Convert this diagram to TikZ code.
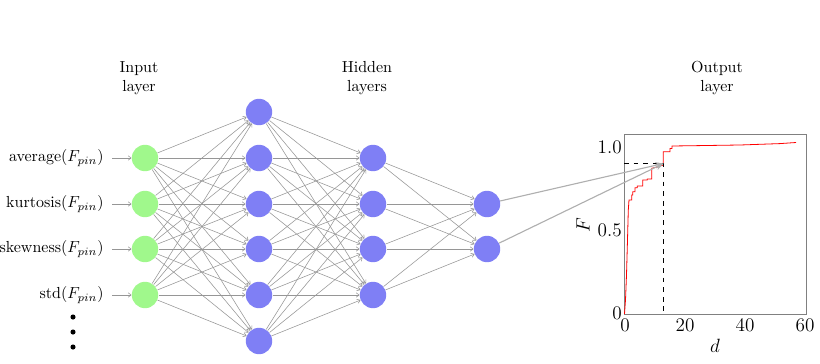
\documentclass[tikz,border=0pt]{standalone}
\usetikzlibrary{arrows.meta}
\definecolor{ingreen}{RGB}{160,248,140}
\definecolor{hidblue}{RGB}{127,127,245}
\definecolor{edgegray}{RGB}{150,150,150}
\definecolor{outgray}{RGB}{175,175,175}
\begin{document}
\begin{tikzpicture}[x=0.625pt,y=-0.625pt,
  neuron/.style={circle,minimum size=16.5pt,inner sep=0pt},
  inneuron/.style={neuron,fill=ingreen},
  hidneuron/.style={neuron,fill=hidblue},
  conn/.style={draw=edgegray,line width=0.35pt,-{To[length=2.2pt,width=3pt]}},
  outconn/.style={draw=outgray,line width=0.7pt,-{Stealth[length=5pt,width=4pt]}},
  lab/.style={align=center,font=\normalsize,inner sep=0pt},
  ticklab/.style={font=\large,inner sep=0pt}]
\useasboundingbox (0,0) rectangle (820,364);

% layer titles
\node[lab] (tin) at (139,78) {Input\\layer};
\node[lab] (thid) at (367,78) {Hidden\\layers};
\node[lab] (tout) at (717,78) {Output\\layer};

% input layer
\foreach \i/\y in {1/158,2/204,3/249,4/295}
  \node[inneuron] (I\i) at (145,\y) {};
\node[anchor=east,inner sep=0pt] (L1) at (104,158) {average($F_{pin}$)};
\node[anchor=east,inner sep=0pt] (L2) at (104,204) {kurtosis($F_{pin}$)};
\node[anchor=east,inner sep=0pt] (L3) at (104,249) {skewness($F_{pin}$)};
\node[anchor=east,inner sep=0pt] (L4) at (104,295) {std($F_{pin}$)};
\foreach \i in {1,...,4}
  \draw[conn] (L\i.east) ++(8,0) coordinate (s\i) -- (I\i.west);

% dots
\foreach \y [count=\k] in {317,332,347}
  \fill (73,\y) circle (1.6pt);

% hidden layer 1
\foreach \i/\y in {1/112,2/158,3/204,4/249,5/295,6/341}
  \node[hidneuron] (H\i) at (259,\y) {};
% hidden layer 2
\foreach \i/\y in {1/158,2/204,3/249,4/295}
  \node[hidneuron] (G\i) at (373,\y) {};
% last hidden layer
\foreach \i/\y in {1/204,2/249}
  \node[hidneuron] (O\i) at (487,\y) {};

% connections
\foreach \a in {1,...,4}
  \foreach \b in {1,...,6}
    \draw[conn] (I\a) -- (H\b);
\foreach \a in {1,...,6}
  \foreach \b in {1,...,4}
    \draw[conn] (H\a) -- (G\b);
\foreach \a in {1,...,4}
  \foreach \b in {1,2}
    \draw[conn] (G\a) -- (O\b);

% plot
\draw[gray,line width=0.6pt] (624,134) rectangle (806,314);
\node[ticklab,anchor=east] (y0) at (622,313) {0};
\node[ticklab,anchor=east] (y05) at (622,230) {0.5};
\node[ticklab,anchor=east] (y1) at (622,147) {1.0};
\node[ticklab] (x0) at (625,325) {0};
\node[ticklab] (x20) at (685,325) {20};
\node[ticklab] (x40) at (745,325) {40};
\node[ticklab] (x60) at (805,325) {60};
\node[ticklab,font=\large\itshape] (dl) at (715,346) {$d$};
\node[ticklab,rotate=90] (Fl) at (583,225) {$F$};

\draw[red,line width=0.5pt] (624.5,314) -- (625.5,300) -- (626.5,275) -- (627.5,240) -- (628.3,210)
  -- (629,200) -- (631.7,200) -- (631.7,195) -- (632.7,195) -- (632.7,191.7) -- (635,191.7)
  -- (635,187.7) -- (637.3,187.7) -- (637.3,186) -- (642.7,186) -- (642.7,180) -- (647.3,180)
  -- (647.3,179) -- (651.7,179) -- (651.7,168.3) -- (657,167) -- (663.3,165) -- (663.3,151.7)
  -- (670,151.7) -- (670,148.5) -- (672,148.5) -- (672,146) -- (700,145.6) -- (740,145)
  -- (760,144.3) -- (780,143.6) -- (796,142.5);

\coordinate (P) at (663.5,163.5);
\draw[black,dashed,line width=0.8pt] (624,163.5) -- (P) -- (663.5,314);

\draw[outconn] (O1) -- (P);
\draw[outconn] (O2) -- (P);
\end{tikzpicture}
\end{document}
